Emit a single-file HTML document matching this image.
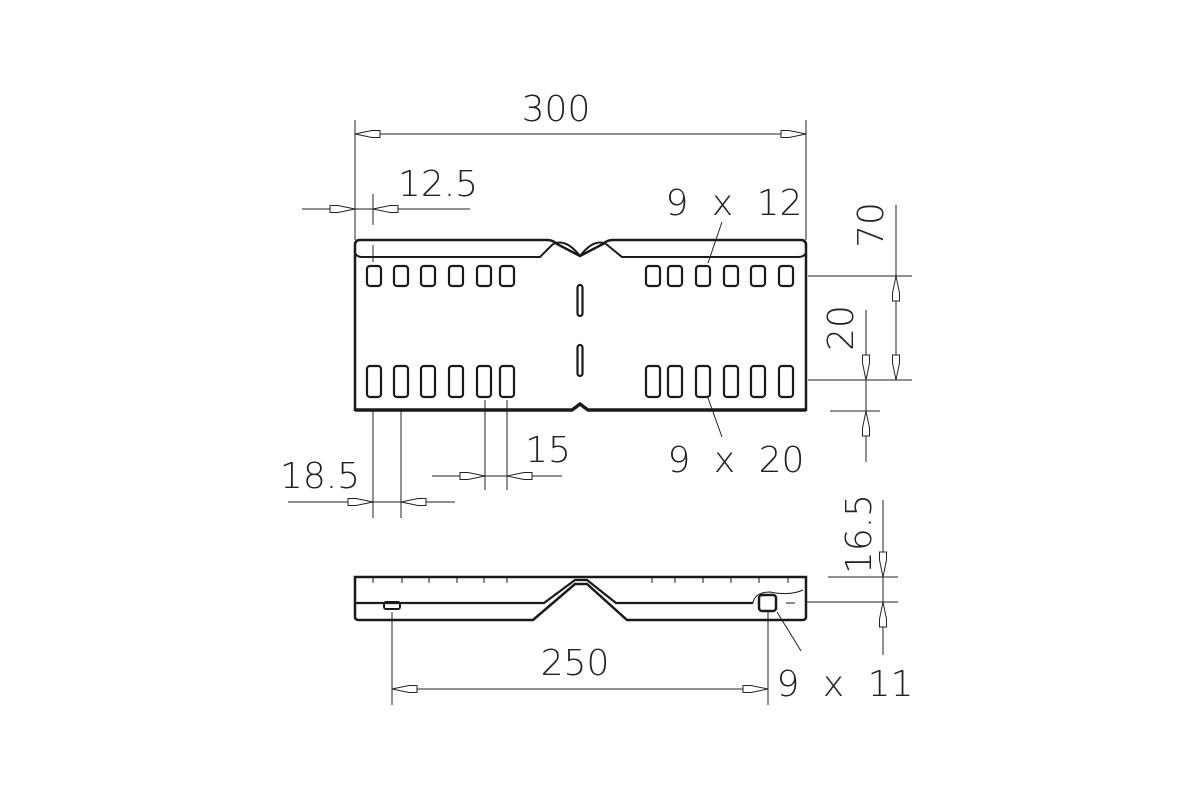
<!DOCTYPE html>
<html><head><meta charset="utf-8"><style>
html,body{margin:0;padding:0;background:#fff;}
svg{display:block;}
text{font-family:"DejaVu Sans","Liberation Sans",sans-serif;font-weight:200;fill:#222;font-size:36px;}
</style></head><body>
<svg width="1200" height="800" viewBox="0 0 1200 800" xmlns="http://www.w3.org/2000/svg">
<defs>
<polygon id="ar" points="0,0 -17,-3.5 -25,-3.5 -25,3.5 -17,3.5" fill="#fff" stroke="#222" stroke-width="1"/>
</defs>
<g fill="none" stroke="#1a1a1a">
<path d="M355,411 L355,245 Q355,240 360,240 L547,240 Q553,240 557,244 L580,256 L603,244 Q607,240 613,240 L801,240 Q806,240 806,245 L806,411" stroke-width="2.5"/>
<path d="M355,253 Q357,257 362,257 L540,257 L553,244 M606,244 L622,257 L798,257 Q804,257 806,253" stroke-width="2"/>
<path d="M553,244 Q566,238 580,256 Q594,238 606,244" stroke-width="2"/>
<path d="M355,410 L572,410 L580,404 L588,410 L806,410" stroke-width="3.5"/>
<g stroke-width="2.2">
<rect x="367" y="266" width="14" height="20" rx="3"/><rect x="394" y="266" width="14" height="20" rx="3"/><rect x="421" y="266" width="14" height="20" rx="3"/><rect x="449" y="266" width="14" height="20" rx="3"/><rect x="477" y="266" width="14" height="20" rx="3"/><rect x="500" y="266" width="14" height="20" rx="3"/>
<rect x="646" y="266" width="14" height="20" rx="3"/><rect x="668" y="266" width="14" height="20" rx="3"/><rect x="696" y="266" width="14" height="20" rx="3"/><rect x="724" y="266" width="14" height="20" rx="3"/><rect x="751" y="266" width="14" height="20" rx="3"/><rect x="779" y="266" width="14" height="20" rx="3"/>
<rect x="367" y="366" width="14" height="31" rx="3"/><rect x="394" y="366" width="14" height="31" rx="3"/><rect x="421" y="366" width="14" height="31" rx="3"/><rect x="449" y="366" width="14" height="31" rx="3"/><rect x="477" y="366" width="14" height="31" rx="3"/><rect x="500" y="366" width="14" height="31" rx="3"/>
<rect x="646" y="366" width="14" height="31" rx="3"/><rect x="668" y="366" width="14" height="31" rx="3"/><rect x="696" y="366" width="14" height="31" rx="3"/><rect x="724" y="366" width="14" height="31" rx="3"/><rect x="751" y="366" width="14" height="31" rx="3"/><rect x="779" y="366" width="14" height="31" rx="3"/>
<rect x="577.5" y="285" width="5" height="31" rx="2.5"/><rect x="577.5" y="345" width="5" height="31" rx="2.5"/>
</g>
<path d="M355,577 L355,617 Q355,620 359,620 L533,620 L575,584 L587,584 L627,620 L802,620 Q806,620 806,617 L806,577 Z" stroke-width="2.5"/>
<path d="M355,603 L544,603 L575,580 L587,580 L616,603 L753,603" stroke-width="2.2"/>
<path d="M753,603 Q755,592 770,592 Q790,596 803,590" stroke-width="1"/>
<rect x="384" y="602" width="16" height="7" rx="2" stroke-width="2"/>
<rect x="759" y="595" width="17" height="16" rx="3" stroke-width="2.5"/>
<path d="M373,577v6M402,577v6M429,577v6M457,577v6M484,577v6M507,577v6M652,577v6M675,577v6M703,577v6M731,577v6M759,577v6M788,577v6M786,603h9" stroke-width="1"/>
</g>
<g stroke="#222" stroke-width="1" fill="none">
<path d="M355,120V240M806,120V240M355,134H806"/>
<path d="M302,209H470M373,194V225M373,245V262"/>
<path d="M708,263L722,222"/>
<path d="M896,205V380M808,276H912M808,380H912M866,310V462M830,411H880"/>
<path d="M708,398L722,437"/>
<path d="M373,411V518M401,411V518M485,400V490M507,400V490"/>
<path d="M432,476H562M288,502H455"/>
<path d="M883,500V655M828,577H898M805,602H898"/>
<path d="M392,612V705M768,612V705M392,689H768"/>
<path d="M777,612L801,651"/>
</g>
<g>
<use href="#ar" transform="translate(355,134) rotate(180)"/><use href="#ar" transform="translate(806,134)"/>
<use href="#ar" transform="translate(355,209)"/><use href="#ar" transform="translate(373,209) rotate(180)"/>
<use href="#ar" transform="translate(896,276) rotate(-90)"/><use href="#ar" transform="translate(896,380) rotate(90)"/>
<use href="#ar" transform="translate(866,380) rotate(90)"/><use href="#ar" transform="translate(866,411) rotate(-90)"/>
<use href="#ar" transform="translate(485,476)"/><use href="#ar" transform="translate(507,476) rotate(180)"/>
<use href="#ar" transform="translate(373,502)"/><use href="#ar" transform="translate(401,502) rotate(180)"/>
<use href="#ar" transform="translate(883,577) rotate(90)"/><use href="#ar" transform="translate(883,602) rotate(-90)"/>
<use href="#ar" transform="translate(392,689) rotate(180)"/><use href="#ar" transform="translate(768,689)"/>
</g>
<text x="556" y="121" text-anchor="middle">300</text>
<text x="438" y="196" text-anchor="middle">12.5</text>
<text x="734" y="215" text-anchor="middle" word-spacing="12" xml:space="preserve">9 x 12</text>
<text x="736" y="472" text-anchor="middle" word-spacing="12" xml:space="preserve">9 x 20</text>
<text x="548" y="462" text-anchor="middle">15</text>
<text x="320" y="488" text-anchor="middle">18.5</text>
<text x="575" y="675" text-anchor="middle">250</text>
<text x="845" y="696" text-anchor="middle" word-spacing="12" xml:space="preserve">9 x 11</text>
<text transform="translate(883,225) rotate(-90)" text-anchor="middle">70</text>
<text transform="translate(853,328) rotate(-90)" text-anchor="middle">20</text>
<text transform="translate(871,534) rotate(-90)" text-anchor="middle">16.5</text>
</svg>
</body></html>
